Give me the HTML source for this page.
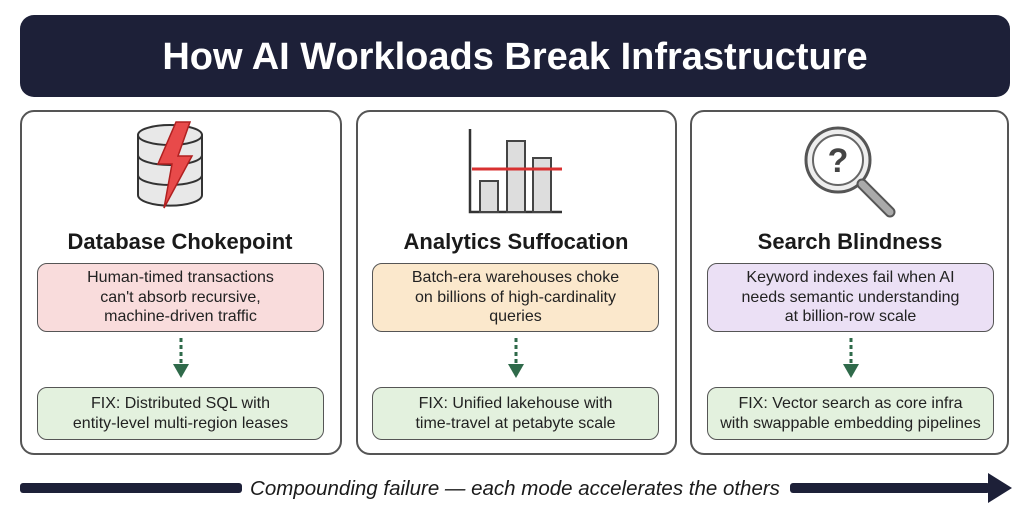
<!DOCTYPE html>
<html><head><style>
body{margin:0;width:1024px;height:518px;background:#fff;position:relative;font-family:"Liberation Sans",sans-serif;overflow:hidden}
.t{position:absolute;left:20px;top:15px;width:990px;height:82px;background:#1d2038;border-radius:14px;color:#fff;font-weight:bold;font-size:38px;text-align:center;line-height:84px}
.p{position:absolute;top:110px;height:345px;border:2px solid #555;border-radius:14px;box-sizing:border-box}
.h{position:absolute;top:229px;width:320px;text-align:center;font-weight:bold;font-size:22px;color:#1a1a1a}
.b{position:absolute;top:263px;height:69px;width:287px;border:1.5px solid #555;border-radius:10px;box-sizing:border-box;display:flex;align-items:center;justify-content:center;text-align:center;font-size:16px;line-height:19.5px;color:#222}
.g{top:387px;height:53px;background:#e3f1de}
.a{position:absolute;top:338px;width:20px;height:42px}
</style></head><body>
<div class="t">How AI Workloads Break Infrastructure</div>
<div class="p" style="left:20px;width:322px"></div>
<div class="p" style="left:356px;width:321px"></div>
<div class="p" style="left:690px;width:319px"></div>

<svg style="position:absolute;left:130px;top:120px" width="80" height="95" viewBox="0 0 80 95">
<g fill="#e8e8e8" stroke="#333" stroke-width="2">
<path d="M8 15 v60 a30 10 0 0 0 64 0 v-60"/>
<ellipse cx="40" cy="15" rx="32" ry="10"/>
<path d="M8 35 a32 10 0 0 0 64 0 M8 55 a32 10 0 0 0 64 0" fill="none"/>
</g>
<path d="M46 2 L28 44 L42 44 L34 88 L62 36 L48 36 L60 2 Z" fill="#e84a4a" stroke="#b02020" stroke-width="1.5"/>
</svg>

<svg style="position:absolute;left:460px;top:125px" width="110" height="90">
<path d="M10 4 V87 H102" fill="none" stroke="#333" stroke-width="2.5"/>
<rect x="20" y="56" width="18" height="31" fill="#ddd" stroke="#444" stroke-width="2"/>
<rect x="47" y="16" width="18" height="71" fill="#ddd" stroke="#444" stroke-width="2"/>
<rect x="73" y="33" width="18" height="54" fill="#ddd" stroke="#444" stroke-width="2"/>
<line x1="12" y1="44" x2="102" y2="44" stroke="#d83030" stroke-width="3"/>
</svg>

<svg style="position:absolute;left:800px;top:122px" width="100" height="100">
<circle cx="38" cy="38" r="32" fill="#eee" stroke="#555" stroke-width="3"/>
<circle cx="38" cy="38" r="25" fill="#fff" stroke="#666" stroke-width="2"/>
<text x="38" y="50" text-anchor="middle" font-size="34" font-weight="bold" fill="#444" font-family="Liberation Sans">?</text>
<line x1="62" y1="62" x2="90" y2="90" stroke="#555" stroke-width="11" stroke-linecap="round"/>
<line x1="62" y1="62" x2="90" y2="90" stroke="#aaa" stroke-width="7" stroke-linecap="round"/>
</svg>

<div class="h" style="left:20px">Database Chokepoint</div>
<div class="h" style="left:356px">Analytics Suffocation</div>
<div class="h" style="left:690px">Search Blindness</div>

<div class="b" style="left:37px;background:#f9dcdc">Human-timed transactions<br>can't absorb recursive,<br>machine-driven traffic</div>
<div class="b" style="left:372px;background:#fbe8cc">Batch-era warehouses choke<br>on billions of high-cardinality<br>queries</div>
<div class="b" style="left:707px;background:#ebe0f5">Keyword indexes fail when AI<br>needs semantic understanding<br>at billion-row scale</div>

<div class="b g" style="left:37px">FIX: Distributed SQL with<br>entity-level multi-region leases</div>
<div class="b g" style="left:372px">FIX: Unified lakehouse with<br>time-travel at petabyte scale</div>
<div class="b g" style="left:707px">FIX: Vector search as core infra<br>with swappable embedding pipelines</div>

<svg class="a" style="left:171px"><line x1="10" y1="0" x2="10" y2="28" stroke="#2f6a4a" stroke-width="3" stroke-dasharray="4 3"/><path d="M2 26 L18 26 L10 40 Z" fill="#2f6a4a"/></svg>
<svg class="a" style="left:506px"><line x1="10" y1="0" x2="10" y2="28" stroke="#2f6a4a" stroke-width="3" stroke-dasharray="4 3"/><path d="M2 26 L18 26 L10 40 Z" fill="#2f6a4a"/></svg>
<svg class="a" style="left:841px"><line x1="10" y1="0" x2="10" y2="28" stroke="#2f6a4a" stroke-width="3" stroke-dasharray="4 3"/><path d="M2 26 L18 26 L10 40 Z" fill="#2f6a4a"/></svg>

<svg style="position:absolute;left:0;top:465px" width="1024" height="45">
<rect x="20" y="18" width="222" height="10" rx="3" fill="#1d2038"/>
<rect x="790" y="18" width="200" height="10" rx="3" fill="#1d2038"/>
<path d="M988 8 L1012 23 L988 38 Z" fill="#1d2038"/>
<text x="515" y="30" text-anchor="middle" font-size="20.5" font-style="italic" fill="#1a1a1a" font-family="Liberation Sans">Compounding failure — each mode accelerates the others</text>
</svg>
</body></html>
